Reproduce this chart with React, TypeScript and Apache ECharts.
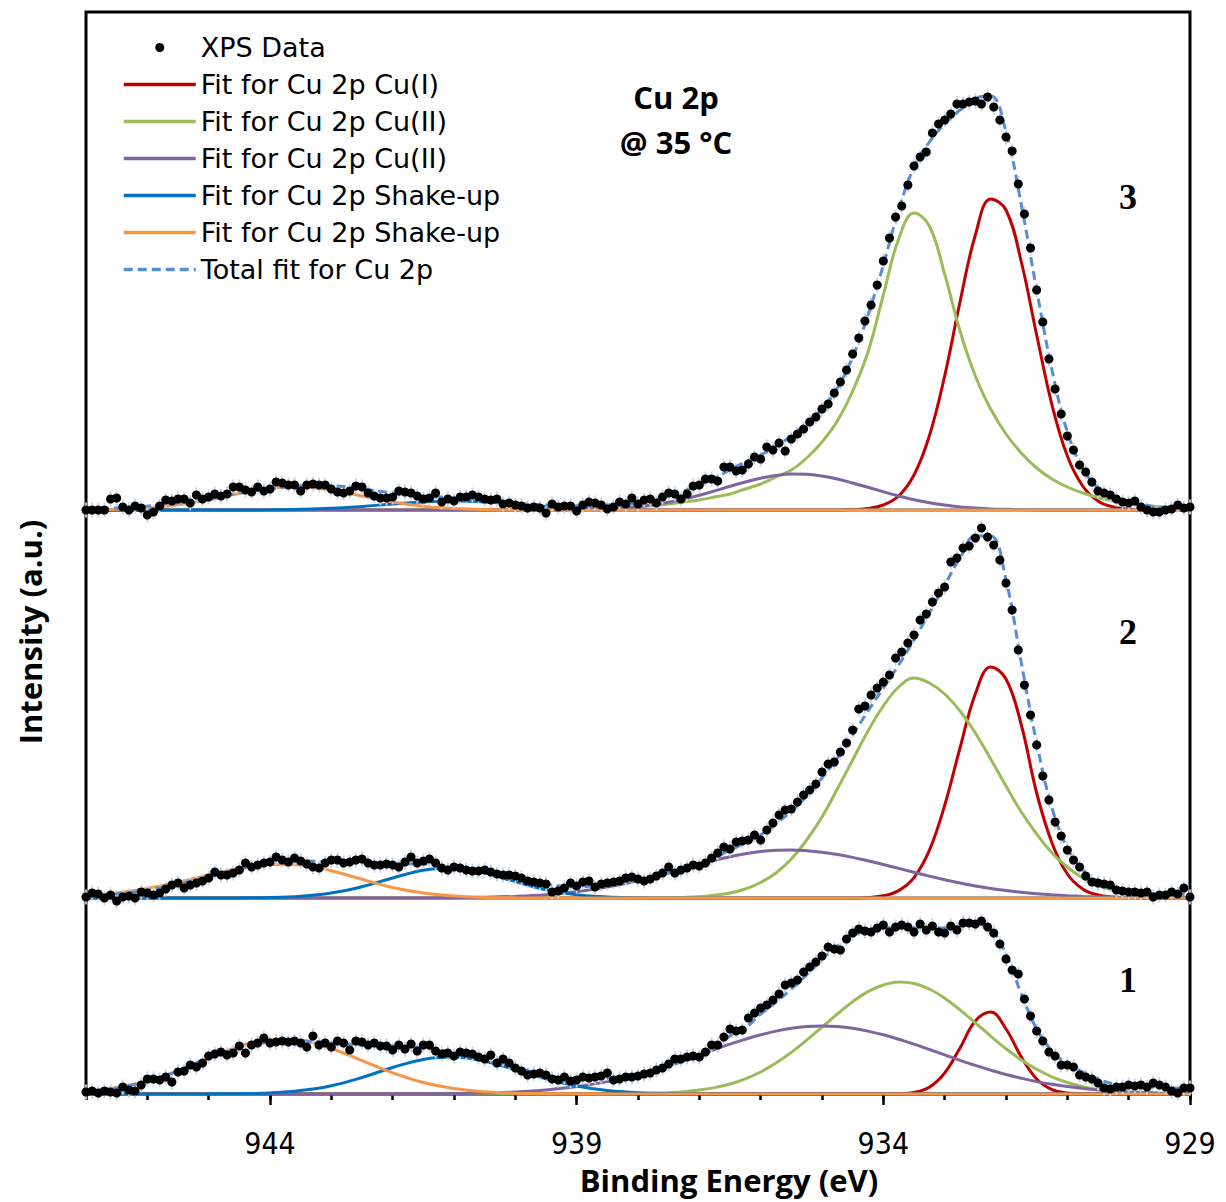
import React, { useEffect, useRef } from "react";
import * as echarts from "echarts";

// ---------- Energy grids ----------
const E_START = 947;
const E_STEP = 0.1;
const N_DATA = 181;
const E_DATA = Array.from({ length: N_DATA }, (_, i) => +(E_START - i * E_STEP).toFixed(1));

const E_FIT = [947, 946.5, 946, 945.5, 945, 944.5, 944, 943.5, 943, 942.5, 942, 941.5, 941, 940.5, 940, 939.5, 939, 938.5, 938,
  937.75, 937.5, 937.25, 937, 936.75, 936.5, 936.25, 936, 935.75, 935.5, 935.25, 935, 934.75, 934.5, 934.25, 934,
  933.75, 933.5, 933.25, 933, 932.75, 932.5, 932.25, 932, 931.75, 931.5, 931.25, 931, 930.75, 930.5, 930.25, 930,
  929.75, 929.5, 929.25, 929];

const X_MAJOR = [944, 939, 934, 929];

// vertical stacking offsets of the three spectra (a.u.)
const OFFSETS = [0, 196, 584];
const Y_MAX = 1082;

// ---------- Spectrum 1 ----------
const DATA_1 = [2, 3, 1, 3, 2, 1, 7, 4, 3, 9, 15, 15, 14, 17, 12, 22, 23, 29, 27, 31, 38, 40, 42, 39, 41, 48, 41, 49, 51, 56,
  51, 52, 53, 52, 53, 51, 47, 58, 49, 51, 47, 53, 51, 44, 53, 52, 49, 51, 48, 48, 44, 49, 45, 50, 43, 49, 49, 43, 40, 41,
  38, 42, 41, 40, 37, 35, 39, 31, 35, 31, 26, 23, 19, 20, 21, 19, 15, 14, 17, 13, 14, 17, 16, 17, 18, 21, 14, 15, 17, 17,
  18, 20, 21, 24, 26, 30, 35, 35, 37, 38, 37, 42, 49, 49, 57, 65, 63, 64, 76, 81, 86, 89, 94, 100, 109, 111, 114, 122, 127, 132,
  138, 147, 145, 144, 155, 161, 165, 163, 162, 166, 169, 162, 167, 169, 167, 162, 170, 164, 168, 162,
  161, 168, 164, 171, 171, 170, 173, 167, 161, 150, 135, 124, 120, 95, 78, 63, 53, 42, 38, 29,
  29, 27, 19, 17, 15, 11, 6, 5, 7, 7, 9, 8, 9, 7, 11, 9, 7, 3, 1, 6, 6];
const RED_1 = [0, 0, 0, 0, 0, 0, 0, 0, 0, 0, 0, 0, 0, 0, 0, 0, 0, 0, 0, 0, 0, 0, 0, 0, 0, 0, 0, 0, 0, 0, 0, 0, 0, 0, 0,
  0.3, 1.6, 6.8, 21, 46, 73, 82, 65, 37, 15, 4.4, 0.9, 0.1, 0, 0, 0, 0, 0, 0, 0];
const GREEN_1 = [0, 0, 0, 0, 0, 0, 0, 0, 0, 0, 0, 0, 0, 0, 0, 0, 0, 0.1, 0.4, 0.7, 1.3, 2.3, 3.9, 6.4, 10, 15.2, 22, 31, 41.6, 53.8,
  66.9, 80, 92.3, 102.4, 109, 112, 110.5, 105, 95.8, 84.2, 71.2, 57.9, 45.3, 34, 24.7, 17.2, 11.5, 7.4, 4.6, 2.7, 1.6, 0.9, 0.5, 0.2, 0.1];
const PURPLE_1 = [0, 0, 0, 0, 0, 0, 0, 0, 0, 0, 0.1, 0.2, 0.5, 1, 2.1, 4.1, 7.4, 12.4, 19.5, 23.9, 28.6, 33.7, 39.1, 44.5, 49.8, 54.8,
  59.2, 62.9, 65.7, 67.4, 68, 67.4, 65.7, 62.9, 59.2, 54.8, 49.8, 44.5, 39.1, 33.7, 28.6, 23.9, 19.5, 15.8, 12.4, 9.7, 7.4, 5.6,
  4.1, 3, 2.1, 1.5, 1, 0.7, 0.5];
const BLUE_1 = [0, 0, 0, 0, 0.1, 0.3, 1.1, 3.4, 8.3, 16.5, 26.5, 34.6, 36.9, 32.7, 24.3, 15.2, 8, 3.5, 1.3, 0.7, 0.5, 0.2, 0.1,
  0, 0, 0, 0, 0, 0, 0, 0, 0, 0, 0, 0, 0, 0, 0, 0, 0, 0, 0, 0, 0, 0, 0, 0, 0, 0, 0, 0, 0, 0, 0, 0];
const ORANGE_1 = [2.7, 6.4, 13.1, 23.4, 35.9, 47.6, 54.3, 53.6, 45.5, 33.4, 21.1, 11.5, 5.4, 2.2, 0.8, 0.3, 0.1,
  0, 0, 0, 0, 0, 0, 0, 0, 0, 0, 0, 0, 0, 0, 0, 0, 0, 0, 0, 0, 0, 0, 0, 0, 0, 0, 0, 0, 0, 0, 0, 0, 0, 0, 0, 0, 0, 0];
const TOTAL_1 = [3, 6, 13, 23, 36, 46, 52, 53, 51, 49, 48, 46, 42, 37, 27, 19, 15, 16, 20, 23, 28, 33, 38, 48, 58, 66, 80, 92, 105, 119,
  135, 148, 158, 164, 166, 166, 166, 166, 166, 168, 170, 165, 140, 100, 65, 43, 30, 22, 15, 10, 8, 7, 7, 6, 5];

// ---------- Spectrum 2 ----------
const DATA_2 = [1, 5, 4, 0, 3, -3, 1, 2, 0, 6, 5, 3, 5, 9, 13, 15, 10, 13, 15, 17, 20, 26, 23, 23, 25, 28, 35, 31, 33, 35,
  36, 41, 38, 36, 40, 37, 34, 31, 30, 35, 38, 38, 35, 36, 38, 39, 35, 33, 33, 34, 33, 31, 36, 41, 35, 37, 39, 35, 30, 28,
  31, 30, 28, 27, 27, 28, 26, 24, 23, 23, 22, 20, 17, 16, 15, 14, 6, 7, 10, 15, 12, 16, 17, 11, 14, 15, 16, 17, 20, 21,
  19, 17, 19, 22, 25, 31, 25, 28, 30, 33, 32, 35, 40, 45, 51, 49, 56, 57, 58, 63, 58, 68, 75, 83, 88, 89, 96, 103, 108, 114,
  126, 134, 136, 146, 155, 168, 189, 192, 203, 210, 216, 223, 240, 246, 255, 263, 278, 284, 296, 305,
  311, 336, 340, 350, 352, 360, 370, 361, 353, 338, 315, 288, 248, 213, 183, 153, 122, 98, 76, 62,
  48, 38, 31, 22, 16, 15, 14, 13, 8, 7, 6, 6, 5, 6, 1, 3, 3, 6, 4, 10, 1];
const RED_2 = [0, 0, 0, 0, 0, 0, 0, 0, 0, 0, 0, 0, 0, 0, 0, 0, 0, 0, 0, 0, 0, 0, 0, 0, 0, 0, 0, 0, 0, 0, 0, 0, 0,
  0.6, 2.2, 7.4, 20.4, 47.6, 92.5, 150, 204, 231, 219, 173, 105, 55, 24, 9, 3, 1, 0.2, 0, 0, 0, 0];
const GREEN_2 = [0, 0, 0, 0, 0, 0, 0, 0, 0, 0, 0, 0, 0, 0, 0, 0, 0, 0, 0, 0.1, 0.3, 0.6, 1.3, 2.7, 5, 9, 15.5, 25, 39, 58,
  81, 109, 138, 167, 192, 211, 220, 215, 204, 187, 165, 139, 112, 86, 64, 45, 31, 20, 12.6, 7.5, 4.3, 2.4, 1.3, 0.7, 0.3];
const PURPLE_2 = [0, 0, 0, 0, 0, 0, 0, 0, 0, 0, 0, 0, 0.3, 0.7, 1.6, 3.3, 6.3, 10.9, 17.3, 21, 25, 29.5, 33.7, 37.7, 41.3, 44.3,
  46.5, 47.7, 48, 47.3, 45.8, 43.5, 40.6, 37.2, 33.5, 29.6, 25.7, 21.9, 18.3, 15, 12.1, 9.6, 7.5, 5.7, 4.3, 3.2, 2.3, 1.6,
  1.1, 0.8, 0.5, 0.3, 0.2, 0.1, 0.1];
const BLUE_2 = [0, 0, 0, 0, 0, 0.1, 0.4, 1.7, 5, 11.3, 20, 27.7, 29.9, 25.1, 16.4, 8.3, 3.3, 1, 0.2,
  0, 0, 0, 0, 0, 0, 0, 0, 0, 0, 0, 0, 0, 0, 0, 0, 0, 0, 0, 0, 0, 0, 0, 0, 0, 0, 0, 0, 0, 0, 0, 0, 0, 0, 0, 0];
const ORANGE_2 = [2.3, 5, 9.5, 15.7, 23, 29.6, 33.5, 33.1, 27.3, 18.7, 10.5, 4.9, 1.9, 0.6, 0.15,
  0, 0, 0, 0, 0, 0, 0, 0, 0, 0, 0, 0, 0, 0, 0, 0, 0, 0, 0, 0, 0, 0, 0, 0, 0, 0, 0, 0, 0, 0, 0, 0, 0, 0, 0, 0, 0, 0, 0, 0];
const TOTAL_2 = [2, 4, 8, 14, 21, 29, 36, 37, 36, 35, 34, 34, 30, 26, 21, 14, 11, 14, 18, 21, 25, 29, 34, 40, 48, 55, 63, 74, 87, 102,
  120, 140, 163, 187, 210, 233, 258, 285, 313, 340, 362, 362, 318, 235, 155, 90, 50, 28, 17, 11, 7, 5, 4, 4, 3];

// ---------- Spectrum 3 ----------
const DATA_3 = [0, 0, 0, 0, 11, 12, 3, 0, 4, 2, -5, -2, 4, 10, 9, 11, 11, 7, 15, 11, 13, 16, 14, 16, 23, 23, 20, 18, 23, 19,
  21, 28, 27, 25, 25, 19, 25, 26, 25, 25, 21, 18, 17, 19, 24, 23, 17, 14, 12, 12, 13, 19, 18, 17, 14, 11, 12, 17, 8, 11,
  9, 13, 13, 15, 13, 11, 10, 11, 6, 7, 5, 4, 2, 3, 2, -3, 6, 3, 4, 4, -1, 5, 8, 7, 5, 1, 3, 8, 6, 12,
  6, 10, 11, 7, 13, 17, 16, 11, 16, 24, 25, 31, 31, 29, 43, 43, 39, 40, 46, 53, 51, 63, 60, 67, 59, 71, 76, 81, 88, 93,
  101, 106, 117, 128, 140, 156, 172, 189, 205, 225, 249, 272, 293, 304, 325, 344, 353, 358, 377, 386,
  390, 396, 406, 406, 408, 409, 406, 413, 403, 390, 373, 359, 326, 296, 262, 220, 188, 151, 121, 96,
  74, 60, 45, 38, 28, 19, 17, 15, 11, 8, 7, 9, 3, 0, -2, -2, 0, 1, 5, 2, 3];
const RED_3 = [0, 0, 0, 0, 0, 0, 0, 0, 0, 0, 0, 0, 0, 0, 0, 0, 0, 0, 0, 0, 0, 0, 0, 0, 0, 0, 0, 0, 0, 0, 0, 0,
  0.4, 1.4, 5, 14, 35, 74, 134, 208, 275, 311, 300, 248, 175, 105, 54, 24, 9, 3, 1, 0, 0, 0, 0];
const GREEN_3 = [0, 0, 0, 0, 0, 0, 0, 0, 0, 0, 0, 0, 0, 0, 0, 0.5, 1, 2, 3, 4.5, 6, 8, 10, 13, 16, 21, 26, 33, 40, 52,
  68, 89, 119, 158, 215, 271, 297, 284, 236, 179, 134, 101, 76, 57, 42, 31, 23, 17, 12.5, 9, 6.5, 4.5, 3.2, 2.3, 1.6];
const PURPLE_3 = [0, 0, 0, 0, 0, 0, 0, 0, 0, 0, 0, 0, 0, 0, 0, 0, 0.4, 1.3, 3.4, 5.3, 7.8, 11, 14.8, 19.1, 23.7, 28, 31.8, 34.5,
  35.9, 35.7, 34, 31, 27, 22.7, 18.2, 14, 10.3, 7.3, 4.9, 3.1, 1.9, 1.1, 0.7, 0.4, 0.2, 0, 0, 0, 0, 0, 0, 0, 0, 0, 0];
const BLUE_3 = [0, 0, 0, 0, 0, 0.05, 0.2, 0.7, 1.7, 3.6, 6, 8.1, 9, 8.1, 6, 3.6, 1.7, 0.7, 0.2, 0.1,
  0, 0, 0, 0, 0, 0, 0, 0, 0, 0, 0, 0, 0, 0, 0, 0, 0, 0, 0, 0, 0, 0, 0, 0, 0, 0, 0, 0, 0, 0, 0, 0, 0, 0, 0];
const ORANGE_3 = [0.2, 0.7, 2.1, 5.2, 10.2, 16.4, 21.5, 22.9, 19.8, 14, 8, 3.7, 1.4, 0.4, 0.1,
  0, 0, 0, 0, 0, 0, 0, 0, 0, 0, 0, 0, 0, 0, 0, 0, 0, 0, 0, 0, 0, 0, 0, 0, 0, 0, 0, 0, 0, 0, 0, 0, 0, 0, 0, 0, 0, 0, 0, 0];
const TOTAL_3 = [1, 2, 4, 7, 11, 17, 21, 24, 24, 21, 17, 14, 12, 10, 7, 5, 4, 5, 7, 10, 14, 19, 25, 32, 40, 48, 55, 64, 74, 87,
  101, 122, 153, 195, 245, 300, 343, 368, 386, 400, 412, 414, 378, 305, 220, 140, 78, 42, 22, 13, 8, 5, 3, 2, 2];

const LEGEND_KEYS = ["data", "cu1", "cu2a", "cu2b", "shakeA", "shakeB", "total"];
const LEGEND_TEXT: Record<string, string> = {
  data: "XPS Data",
  cu1: "Fit for Cu 2p Cu(I)",
  cu2a: "Fit for Cu 2p Cu(II)",
  cu2b: "Fit for Cu 2p Cu(II)",
  shakeA: "Fit for Cu 2p Shake-up",
  shakeB: "Fit for Cu 2p Shake-up",
  total: "Total fit for Cu 2p",
};

const PANELS = [
  { label: "1", data: DATA_1, red: RED_1, green: GREEN_1, purple: PURPLE_1, blue: BLUE_1, orange: ORANGE_1, total: TOTAL_1 },
  { label: "2", data: DATA_2, red: RED_2, green: GREEN_2, purple: PURPLE_2, blue: BLUE_2, orange: ORANGE_2, total: TOTAL_2 },
  { label: "3", data: DATA_3, red: RED_3, green: GREEN_3, purple: PURPLE_3, blue: BLUE_3, orange: ORANGE_3, total: TOTAL_3 },
];

const COLORS = {
  red: "#C00000",
  green: "#9BBB59",
  purple: "#8064A2",
  blue: "#0070C0",
  orange: "#F79646",
  total: "#558ED5",
  err: "#c4d5ec",
};

const NARROW = '"Liberation Sans Narrow", "DejaVu Sans Condensed", "Liberation Sans", sans-serif';
const BOLDFONT = '"Open Sans", Lato, sans-serif';

function buildOption() {
  const series: any[] = [];
  PANELS.forEach((p, idx) => {
    const off = OFFSETS[idx];
    const fit = (vals: number[]) => E_FIT.map((e, i) => [e, vals[i] + off]);
    const line = (name: string, vals: number[], color: string, z: number) => ({
      type: "line",
      name,
      data: fit(vals),
      symbol: "none",
      smooth: 0.4,
      lineStyle: { color, width: 3 },
      itemStyle: { color },
      z,
      silent: true,
    });
    series.push(line("cu1", p.red, COLORS.red, 2));
    series.push(line("cu2a", p.green, COLORS.green, 2));
    series.push(line("cu2b", p.purple, COLORS.purple, 2));
    series.push(line("shakeA", p.blue, COLORS.blue, 2));
    series.push(line("shakeB", p.orange, COLORS.orange, 3));
    series.push({
      type: "scatter",
      name: "err",
      data: E_DATA.map((e, i) => [e, p.data[i] + off]),
      symbol: "path://M4,0H6V16H4Z M0,7H10V9H0Z",
      symbolSize: [9, 15],
      itemStyle: { color: COLORS.err, opacity: 1 },
      z: 3,
      silent: true,
      clip: false,
    });
    series.push({
      type: "line",
      name: "total",
      data: fit(p.total),
      symbol: "none",
      smooth: 0.4,
      lineStyle: { color: COLORS.total, width: 3, type: [9, 5] },
      itemStyle: { color: COLORS.total },
      z: 4,
      silent: true,
    });
    series.push({
      type: "scatter",
      name: "data",
      data: E_DATA.map((e, i) => [e, p.data[i] + off]),
      symbol: "circle",
      symbolSize: 9,
      itemStyle: { color: "#000", opacity: 1 },
      z: 5,
      silent: true,
      clip: false,
    });
  });

  const texts: any[] = [
    { type: "text", x: 30, y: 632, rotation: Math.PI / 2,
      style: { text: "Intensity (a.u.)", fontFamily: BOLDFONT, fontWeight: "bold", fontSize: 31, fill: "#000", align: "center", verticalAlign: "middle" } },
    { type: "text", x: 729, y: 1180,
      style: { text: "Binding Energy (eV)", fontFamily: BOLDFONT, fontWeight: "bold", fontSize: 31, fill: "#000", align: "center", verticalAlign: "middle" } },
    { type: "text", x: 676, y: 97,
      style: { text: "Cu 2p", fontFamily: BOLDFONT, fontWeight: "bold", fontSize: 31, fill: "#000", align: "center", verticalAlign: "middle" } },
    { type: "text", x: 676, y: 142,
      style: { text: "@ 35 °C", fontFamily: BOLDFONT, fontWeight: "bold", fontSize: 31, fill: "#000", align: "center", verticalAlign: "middle" } },
  ];
  const labelY = [980, 632, 197];
  PANELS.forEach((p, idx) => {
    texts.push({ type: "text", x: 1128, y: labelY[idx],
      style: { text: p.label, fontFamily: '"Liberation Serif", serif', fontWeight: "bold", fontSize: 36, fill: "#000", align: "center", verticalAlign: "middle" } });
  });

  const legendData = LEGEND_KEYS.map((k) =>
    k === "data" ? { name: k } : { name: k, itemStyle: { opacity: 0 } }
  );

  return {
    animation: false,
    backgroundColor: "#fff",
    grid: { left: 86, top: 12, width: 1104, height: 1082, show: true, borderColor: "#000", borderWidth: 3, containLabel: false },
    legend: {
      data: legendData,
      orient: "vertical",
      left: 122,
      top: 34,
      padding: 0,
      itemWidth: 72,
      itemHeight: 9,
      itemGap: 10,
      selectedMode: false,
      formatter: (n: string) => LEGEND_TEXT[n],
      lineStyle: { width: 3.5 },
      textStyle: { fontFamily: '"DejaVu Sans", sans-serif', fontSize: 27, lineHeight: 25, color: "#000" },
    },
    xAxis: [
      {
        type: "value", min: 929, max: 947, interval: 1, inverse: true, position: "bottom",
        axisLine: { show: true, lineStyle: { color: "#000", width: 2 } },
        axisTick: { show: true, length: 6, lineStyle: { color: "#000", width: 2.5 } },
        axisLabel: { show: false },
        splitLine: { show: false },
      },
      {
        type: "value", min: 929, max: 947, interval: 1, inverse: true, position: "bottom",
        axisLine: { show: false },
        axisTick: { show: true, length: 11, customValues: X_MAJOR, lineStyle: { color: "#000", width: 2.5 } },
        axisLabel: { show: true, customValues: X_MAJOR, margin: 34, fontSize: 30, fontFamily: NARROW, color: "#000" },
        splitLine: { show: false },
      },
    ],
    yAxis: { type: "value", min: 0, max: Y_MAX, show: false },
    series,
    graphic: texts,
  };
}

export default function App() {
  const ref = useRef<HTMLDivElement>(null);
  useEffect(() => {
    document.body.style.margin = "0";
    if (!ref.current) return;
    const chart = echarts.init(ref.current, undefined, { renderer: "svg" });
    chart.setOption(buildOption() as any);
    return () => chart.dispose();
  }, []);
  return <div ref={ref} style={{ width: 1226, height: 1202, background: "#fff" }} />;
}
